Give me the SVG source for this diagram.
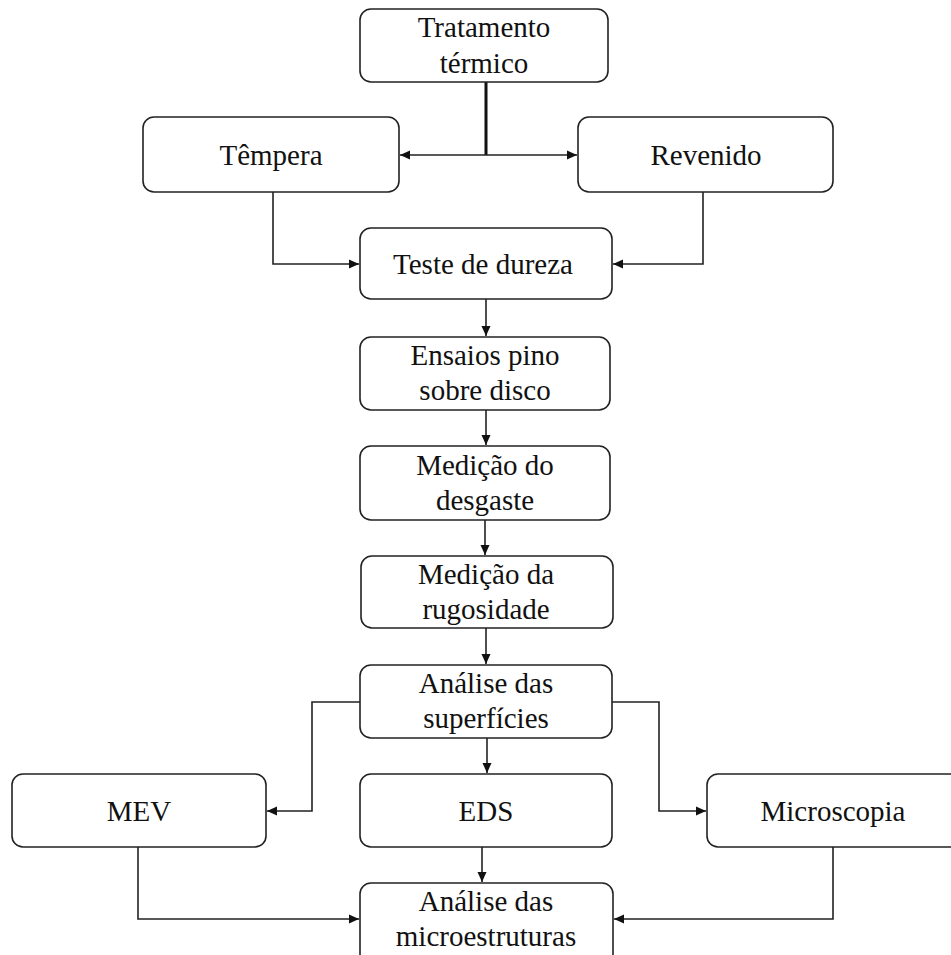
<svg xmlns="http://www.w3.org/2000/svg" width="951" height="955" viewBox="0 0 951 955">
<defs>
<style>
.box{fill:#fff;stroke:#222;stroke-width:1.6}
.lbl{font-size:29px;fill:#111;text-anchor:middle}
.c{fill:none;stroke:#222;stroke-width:1.6}
.thick{fill:none;stroke:#111;stroke-width:3}
</style>
<marker id="ah" markerUnits="userSpaceOnUse" markerWidth="12" markerHeight="12" viewBox="0 0 12 12" refX="11" refY="6" orient="auto">
<path d="M1,1.5 L11,6 L1,10.5 Z" fill="#111"/>
</marker>
</defs>
<rect width="951" height="955" fill="#fff"/>
<g id="connectors">
<path class="thick" d="M486,82 V155"/>
<path class="c" d="M486,155 H400" marker-end="url(#ah)"/>
<path class="c" d="M486,155 H577" marker-end="url(#ah)"/>
<path class="c" d="M273,192 V264 H359" marker-end="url(#ah)"/>
<path class="c" d="M703,192 V264 H613" marker-end="url(#ah)"/>
<path class="c" d="M486,299 V336" marker-end="url(#ah)"/>
<path class="c" d="M486,410 V445" marker-end="url(#ah)"/>
<path class="c" d="M485,520 V555" marker-end="url(#ah)"/>
<path class="c" d="M486,628 V664" marker-end="url(#ah)"/>
<path class="c" d="M360,702 H312 V811 H267" marker-end="url(#ah)"/>
<path class="c" d="M612,702 H659 V811 H706" marker-end="url(#ah)"/>
<path class="c" d="M487,738 V773" marker-end="url(#ah)"/>
<path class="c" d="M482,847 V882" marker-end="url(#ah)"/>
<path class="c" d="M138,847 V919 H359" marker-end="url(#ah)"/>
<path class="c" d="M833,847 V919 H614" marker-end="url(#ah)"/>
</g>
<g font-family="Liberation Serif, Times New Roman, serif">
<g id="tratamento">
<rect class="box" x="360" y="9" width="248" height="73" rx="11"/>
<text class="lbl" x="484" y="37">Tratamento</text>
<text class="lbl" x="484" y="73">térmico</text>
</g>
<g id="tempera">
<rect class="box" x="143" y="117" width="256" height="75" rx="11"/>
<text class="lbl" x="271" y="165">Têmpera</text>
</g>
<g id="revenido">
<rect class="box" x="578" y="117" width="255" height="75" rx="11"/>
<text class="lbl" x="706" y="165">Revenido</text>
</g>
<g id="teste">
<rect class="box" x="360" y="228" width="252" height="71" rx="11"/>
<text class="lbl" x="483" y="274">Teste de dureza</text>
</g>
<g id="ensaios">
<rect class="box" x="360" y="337" width="250" height="73" rx="11"/>
<text class="lbl" x="485" y="365">Ensaios pino</text>
<text class="lbl" x="485" y="400">sobre disco</text>
</g>
<g id="desgaste">
<rect class="box" x="360" y="446" width="250" height="74" rx="11"/>
<text class="lbl" x="485" y="475">Medição do</text>
<text class="lbl" x="485" y="510">desgaste</text>
</g>
<g id="rugosidade">
<rect class="box" x="361" y="556" width="252" height="72" rx="11"/>
<text class="lbl" x="486" y="584">Medição da</text>
<text class="lbl" x="486" y="619">rugosidade</text>
</g>
<g id="superficies">
<rect class="box" x="360" y="665" width="252" height="73" rx="11"/>
<text class="lbl" x="486" y="693">Análise das</text>
<text class="lbl" x="486" y="728">superfícies</text>
</g>
<g id="mev">
<rect class="box" x="12" y="774" width="254" height="73" rx="11"/>
<text class="lbl" x="139" y="821">MEV</text>
</g>
<g id="eds">
<rect class="box" x="360" y="774" width="252" height="73" rx="11"/>
<text class="lbl" x="486" y="821">EDS</text>
</g>
<g id="microscopia">
<rect class="box" x="707" y="774" width="262" height="73" rx="11"/>
<text class="lbl" x="833" y="821">Microscopia</text>
</g>
<g id="microestruturas">
<rect class="box" x="360" y="883" width="253" height="82" rx="11"/>
<text class="lbl" x="486" y="911">Análise das</text>
<text class="lbl" x="486" y="946">microestruturas</text>
</g>
</g>
</svg>
